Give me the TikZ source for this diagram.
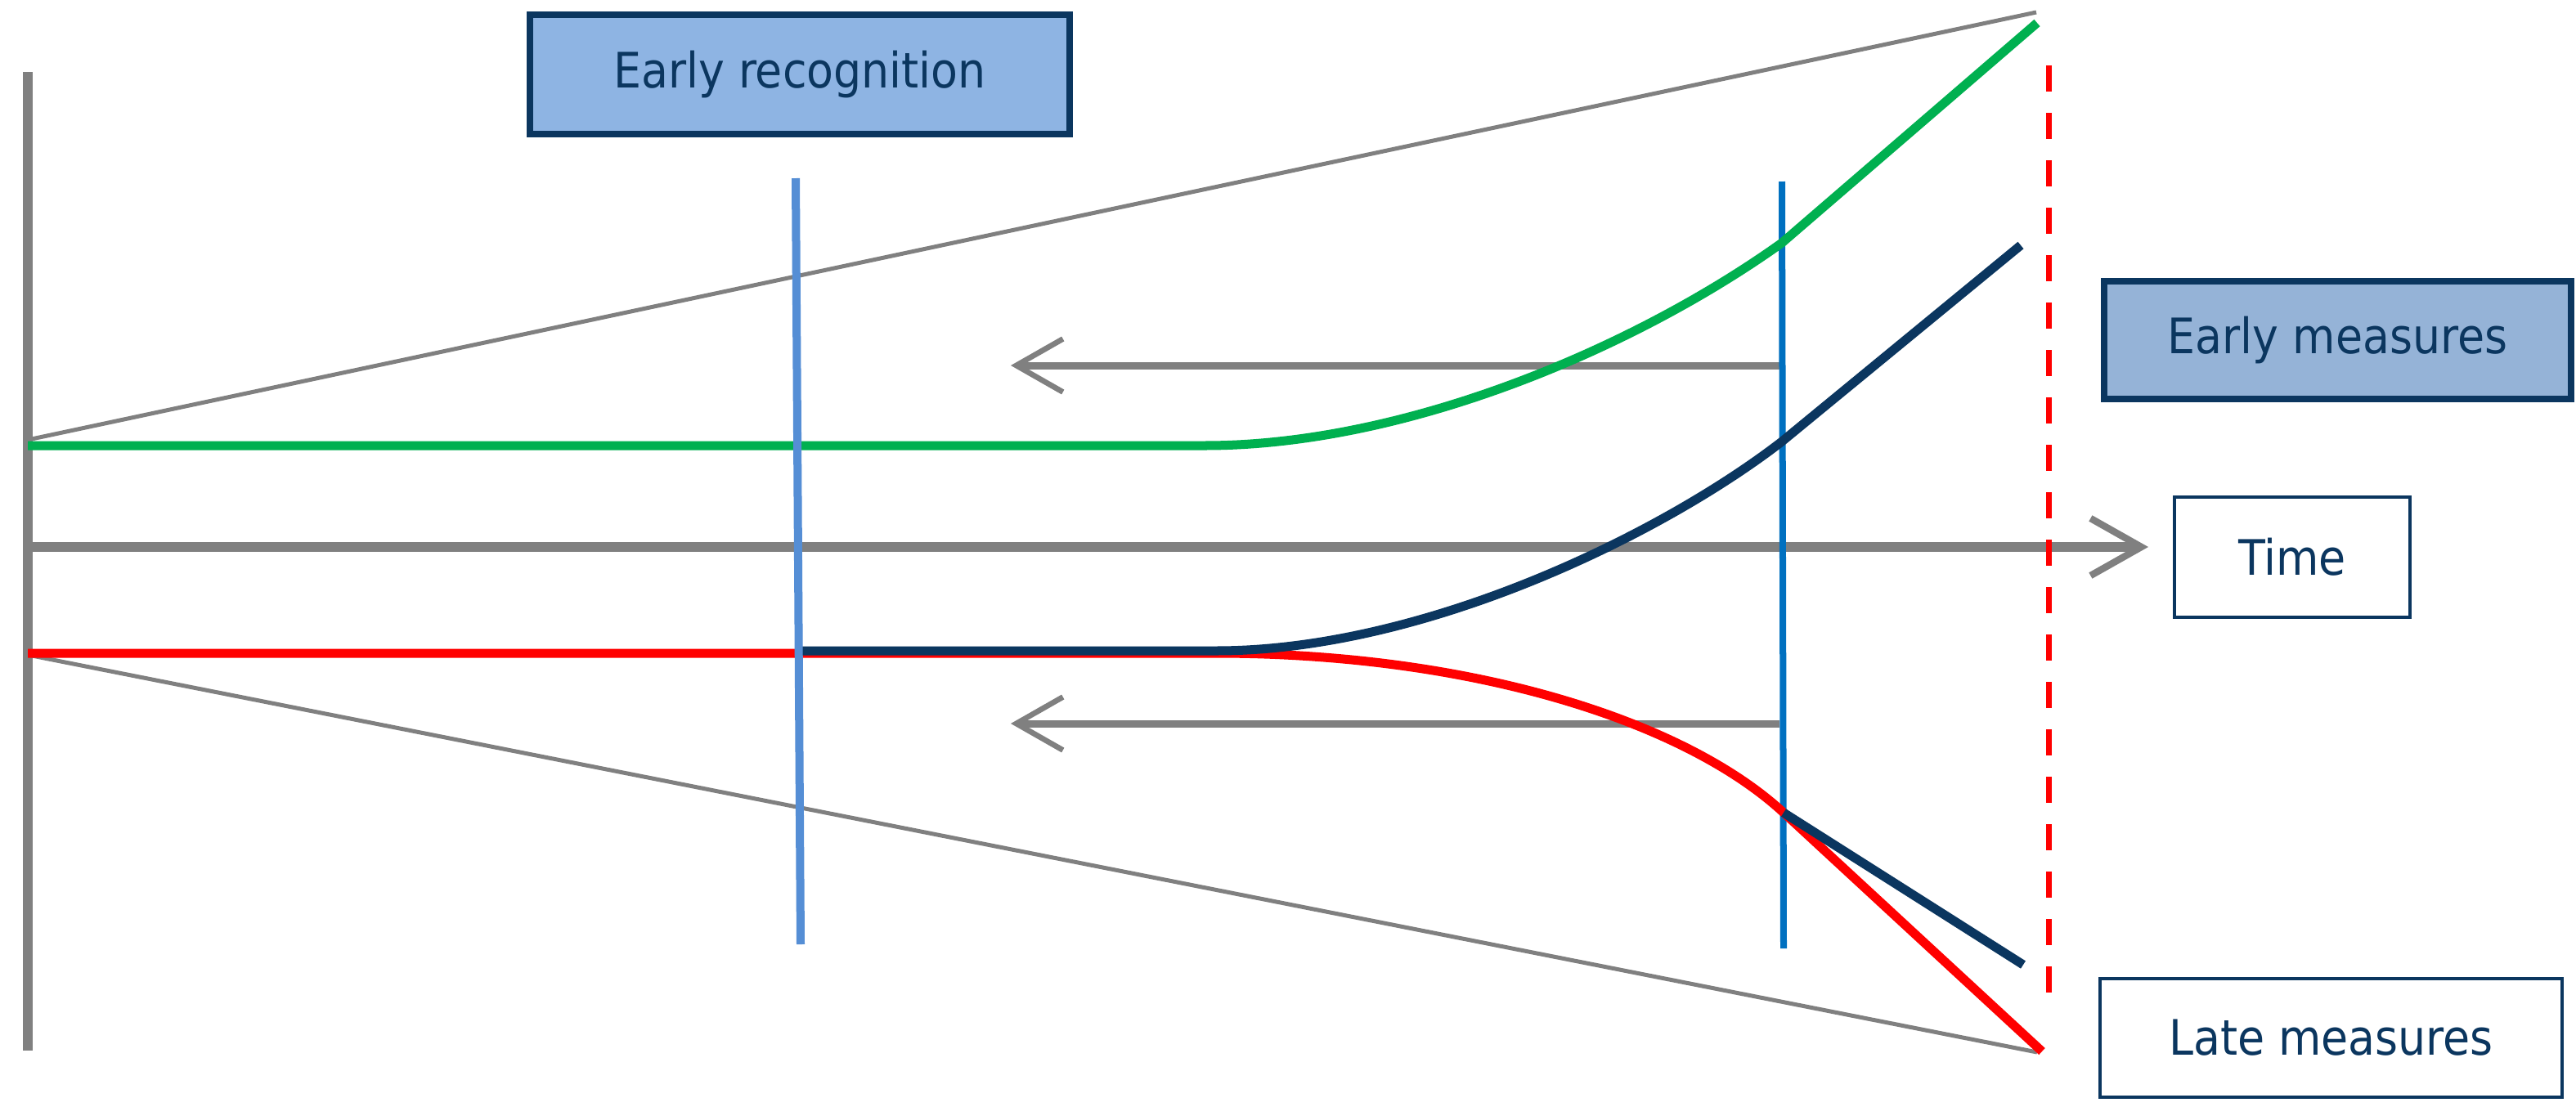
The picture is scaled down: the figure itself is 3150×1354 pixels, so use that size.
\documentclass[tikz,border=0pt]{standalone}
\usepackage{fontspec}
\setmainfont{DejaVu Sans Condensed}
\usetikzlibrary{arrows.meta}
\definecolor{cgray}{HTML}{808080}
\definecolor{cgreen}{HTML}{00B050}
\definecolor{cred}{HTML}{FF0000}
\definecolor{cnavy}{HTML}{0B365F}
\definecolor{cblueA}{HTML}{558ED5}
\definecolor{cblueB}{HTML}{0070C0}
\definecolor{cfillA}{HTML}{8EB4E3}
\definecolor{cfillB}{HTML}{95B3D7}
\tikzset{
  px/.style={line width=#1*0.2845pt},
  thickbox/.style={draw=cnavy, px=8, inner sep=0pt, text=cnavy, font=\fontsize{17}{20}\selectfont},
  thinbox/.style={draw=cnavy, px=4, fill=white, inner sep=0pt, text=cnavy, font=\fontsize{17}{20}\selectfont},
  diag/.style={cgray, px=5},
  curveline/.style={px=11, line cap=butt},
  barb/.style={-{Straight Barb[length=0.57cm, width=0.65cm, line width=1.9pt]}},
}
\begin{document}
\begin{tikzpicture}[x=0.01cm, y=-0.01cm]
\useasboundingbox (0,0) rectangle (3150,1354);
% key coordinates
\coordinate (vtop) at (34,88);
\coordinate (vbot) at (34,1285);
\coordinate (uStart) at (34,538);
\coordinate (uEnd) at (2490,15);
\coordinate (lStart) at (34,801);
\coordinate (lEnd) at (2491,1287);
\coordinate (tStart) at (38,669);
\coordinate (tEnd) at (2627,669);
\coordinate (a1s) at (2176,447);
\coordinate (a1e) at (1236,447);
\coordinate (a2s) at (2176,885);
\coordinate (a2e) at (1236,885);
\coordinate (b1t) at (973,218);
\coordinate (b1b) at (979,1155);
\coordinate (b2t) at (2179,222);
\coordinate (b2b) at (2181,1160);
\coordinate (dt) at (2505,80);
\coordinate (db) at (2505,1215);
\coordinate (gS) at (34,545);
\coordinate (gK) at (1473,545);
\coordinate (gB) at (2179,297);
\coordinate (gE) at (2491,28);
\coordinate (nS) at (979,796);
\coordinate (nK) at (1487,796);
\coordinate (nB) at (2179,540);
\coordinate (nE) at (2471,300);
\coordinate (rS) at (34,799);
\coordinate (rK) at (1487,799);
\coordinate (rB) at (2181,994);
\coordinate (rE) at (2497,1286);
\coordinate (n2E) at (2474,1180);

% boxes
\node[thickbox, fill=cfillA, minimum width=6.6cm, minimum height=1.46cm] (recog) at (978,91) {Early recognition};
\node[thickbox, fill=cfillB, minimum width=5.71cm, minimum height=1.44cm] (early) at (2858.5,416) {Early measures};
\node[thinbox, minimum width=2.88cm, minimum height=1.47cm] (time) at (2803,681.5) {Time};
\node[thinbox, minimum width=5.65cm, minimum height=1.45cm] (late) at (2850.5,1269.5) {Late measures};

% grey frame lines
\draw[diag] (uStart) -- (uEnd);
\draw[diag] (lStart) -- (lEnd);
\draw[cgray, px=12] (vtop) -- (vbot);
\draw[cgray, px=12, -{Straight Barb[length=0.62cm, width=0.70cm, line width=2.4pt]}] (tStart) -- (tEnd);
\draw[cgray, px=9, barb] (a1s) -- (a1e);
\draw[cgray, px=9, barb] (a2s) -- (a2e);

% right blue line (under curves)
\draw[cblueB, px=8] (b2t) -- (b2b);

% curves
\draw[cred, curveline] (rS) -- (rK) .. controls (1800,799) and (2060,882) .. (rB) -- (rE);
\draw[cgreen, curveline] (gS) -- (gK) .. controls (1720,545) and (2000,425) .. (gB) -- (gE);
\draw[cnavy, curveline] (nS) -- (nK) .. controls (1740,796) and (2030,655) .. (nB) -- (nE);
\draw[cnavy, curveline] (rB) -- (n2E);

% left blue line (over curves)
\draw[cblueA, px=10] (b1t) -- (b1b);

% red dashed
\draw[cred, px=7, dash pattern=on 9.1pt off 7.4pt] (dt) -- (db);
\end{tikzpicture}
\end{document}
